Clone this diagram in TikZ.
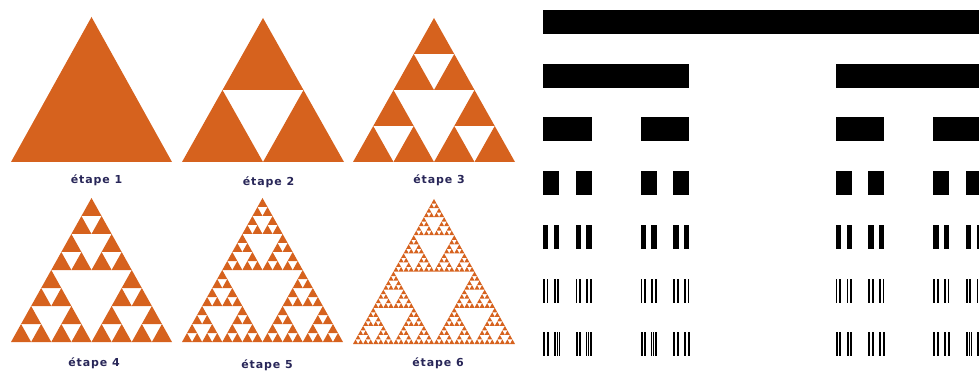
\documentclass[tikz,border=0pt]{standalone}
\usepackage{fontspec}
\usepackage{xcolor}
\usepackage{tikz}
\newfontfamily\stepfont{DejaVu Sans}[LetterSpace=8]
\definecolor{sierporange}{RGB}{214,98,30}
\definecolor{labelnavy}{RGB}{40,38,88}

% depth, base-left x, base y, width, height
\newcommand\sierp[5]{%
  \ifnum#1<2
    \fill[sierpfill] (#2,#3) -- ++(#4,0) -- ++(-#4/2,-#5) -- cycle;
  \else
    \begingroup
    \pgfmathsetmacro\sw{#4/2}\pgfmathsetmacro\sh{#5/2}%
    \pgfmathsetmacro\sxa{#2+\sw}\pgfmathsetmacro\sxb{#2+\sw/2}%
    \pgfmathsetmacro\sy{#3-\sh}\pgfmathtruncatemacro\sd{#1-1}%
    \edef\next{\noexpand\sierp{\sd}{#2}{#3}{\sw}{\sh}%
      \noexpand\sierp{\sd}{\sxa}{#3}{\sw}{\sh}%
      \noexpand\sierp{\sd}{\sxb}{\sy}{\sw}{\sh}}%
    \next
    \endgroup
  \fi}

% level, left x, width
\newcommand\cantor[3]{%
  \begingroup
  \pgfmathsetmacro\ctop{10+53.7*#1}%
  \fill[cantorbar] (#2,\ctop) rectangle ++(#3,24);
  \ifnum#1<6
    \pgfmathsetmacro\cw{#3/3}\pgfmathsetmacro\cxr{#2+2*#3/3}%
    \pgfmathtruncatemacro\cl{#1+1}%
    \edef\next{\noexpand\cantor{\cl}{#2}{\cw}\noexpand\cantor{\cl}{\cxr}{\cw}}%
    \next
  \fi
  \endgroup}

\begin{document}
\begin{tikzpicture}[
  x=1pt,y=-1pt,
  sierpfill/.style={fill=sierporange},
  cantorbar/.style={fill=black},
  steplabel/.style={font=\stepfont\bfseries\fontsize{11}{13}\selectfont,text=labelnavy,inner sep=0pt}
]
\useasboundingbox (0,0) rectangle (979,371);
\clip (0,0) rectangle (979,371);

% Sierpinski triangles
\sierp{1}{11}{162}{161}{145}
\sierp{2}{182}{162}{162}{144}
\sierp{3}{353}{162}{162}{144}
\sierp{4}{11}{342}{161}{144}
\sierp{5}{182}{342}{161}{144}
\sierp{6}{353}{344}{162}{145}

\node[steplabel] (e1) at (96.5,180.5) {étape 1};
\node[steplabel] (e2) at (268.5,182) {étape 2};
\node[steplabel] (e3) at (439,180.5) {étape 3};
\node[steplabel] (e4) at (94,363) {étape 4};
\node[steplabel] (e5) at (267,365) {étape 5};
\node[steplabel] (e6) at (438,363) {étape 6};

% Cantor set
\cantor{0}{543}{439}
\end{tikzpicture}
\end{document}
